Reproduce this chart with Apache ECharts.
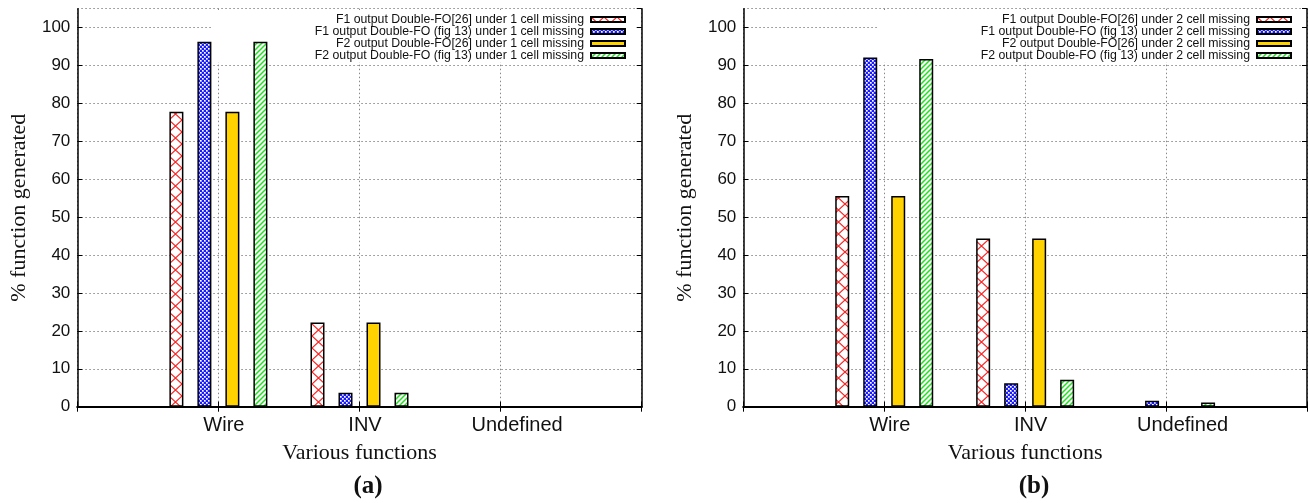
<!DOCTYPE html>
<html>
<head>
<meta charset="utf-8">
<script src="https://cdn.jsdelivr.net/npm/echarts@6/dist/echarts.min.js"></script>
<style>html,body{margin:0;padding:0;background:#fff;}#c{width:1310px;height:503px;}</style>
</head>
<body>
<div id="c"></div>
<script>
// ---- data ----
const categories = ['Wire', 'INV', 'Undefined'];
const yTicks = [0, 10, 20, 30, 40, 50, 60, 70, 80, 90, 100];
const namesA = [
  'F1 output Double-FO[26] under 1 cell missing',
  'F1 output Double-FO (fig 13) under 1 cell missing',
  'F2 output Double-FO[26] under 1 cell missing',
  'F2 output Double-FO (fig 13) under 1 cell missing'
];
const namesB = [
  'F1 output Double-FO[26] under 2 cell missing',
  'F1 output Double-FO (fig 13) under 2 cell missing',
  'F2 output Double-FO[26] under 2 cell missing',
  'F2 output Double-FO (fig 13) under 2 cell missing'
];
const aF1ref = [77.8, 22.2, 0];
const aF1fig = [96.3, 3.7, 0];
const aF2ref = [77.8, 22.2, 0];
const aF2fig = [96.3, 3.7, 0];
const bF1ref = [55.6, 44.4, 0];
const bF1fig = [92.1, 6.2, 1.6];
const bF2ref = [55.6, 44.4, 0];
const bF2fig = [91.7, 7.1, 1.1];

// ---- patterns ----
function pat(kind) {
  const c = document.createElement('canvas');
  let w, h;
  if (kind === 'cross') { w = 13; h = 12; }
  else if (kind === 'check') { w = 4; h = 4; }
  else { w = 5; h = 5; }
  c.width = w; c.height = h;
  const g = c.getContext('2d');
  if (kind === 'cross') {
    g.fillStyle = '#fff'; g.fillRect(0, 0, w, h);
    g.strokeStyle = '#ff2020'; g.lineWidth = 1.2;
    g.beginPath(); g.moveTo(0, 0); g.lineTo(w, h); g.moveTo(w, 0); g.lineTo(0, h); g.stroke();
  } else if (kind === 'check') {
    g.fillStyle = '#1a1aff'; g.fillRect(0, 0, w, h);
    g.fillStyle = '#ffffff';
    g.fillRect(0, 0, 1.7, 1.7); g.fillRect(2, 2, 1.7, 1.7);
  } else {
    g.fillStyle = '#fff'; g.fillRect(0, 0, w, h);
    g.strokeStyle = '#20e020'; g.lineWidth = 1.5;
    g.beginPath();
    g.moveTo(0, h); g.lineTo(w, 0);
    g.moveTo(-1, 1); g.lineTo(1, -1);
    g.moveTo(w - 1, h + 1); g.lineTo(w + 1, h - 1);
    g.stroke();
  }
  return { image: c, repeat: 'repeat' };
}
const fills = [pat('cross'), pat('check'), '#ffd200', pat('stripe')];

const axisCats = [''].concat(categories, ['']);
const pad = arr => [null].concat(arr, [null]);

const grids = [
  { left: 77.3, top: 8.7, width: 564.4, height: 398 },
  { left: 743.3, top: 8.7, width: 564.2, height: 398 }
];

const sans = 'Liberation Sans, Arial, sans-serif';
const serif = 'Liberation Serif, Times New Roman, serif';
const gridLine = { show: true, lineStyle: { color: '#888', width: 1, type: [1.5, 2.5] } };
const richX = {
  w: { fontFamily: sans, fontSize: 20, color: '#111', padding: [0, 0, 0, 11] },
  i: { fontFamily: sans, fontSize: 20, color: '#111', padding: [0, 0, 0, 11] },
  u: { fontFamily: sans, fontSize: 20, color: '#111', padding: [0, 0, 0, 33] }
};
const keyOf = { 'Wire': 'w', 'INV': 'i', 'Undefined': 'u' };

const xAxis = [], yAxis = [];
[0, 1].forEach(g => {
  xAxis.push({
    type: 'category', gridIndex: g, data: axisCats, boundaryGap: false, position: 'bottom',
    axisLine: { lineStyle: { color: '#000', width: 2 } },
    axisTick: { inside: true, length: 5, lineStyle: { color: '#000' } },
    axisLabel: { margin: 9, formatter: v => v ? '{' + keyOf[v] + '|' + v + '}' : '', rich: richX, interval: 0 },
    splitLine: gridLine,
    name: 'Various functions', nameLocation: 'middle', nameGap: 36,
    nameTextStyle: { fontFamily: serif, fontSize: 22, color: '#111' }
  });
  xAxis.push({
    type: 'category', gridIndex: g, data: axisCats, boundaryGap: false, position: 'top', z: 3,
    axisLine: { lineStyle: { color: '#000', width: 1.5 } },
    axisTick: { inside: true, length: 5, lineStyle: { color: '#000' } },
    axisLabel: { show: false }, splitLine: { show: false }
  });
  yAxis.push({
    type: 'value', gridIndex: g, min: 0, max: 105, interval: 10, position: 'left',
    axisLine: { show: true, lineStyle: { color: '#000', width: 1.5 } },
    axisTick: { show: true, inside: true, length: 5, lineStyle: { color: '#000' } },
    axisLabel: { margin: 7, fontFamily: sans, fontSize: 17, color: '#111', showMaxLabel: false,
      formatter: v => yTicks.indexOf(v) >= 0 ? String(v) : '' },
    splitLine: gridLine,
    name: '% function generated', nameLocation: 'middle', nameGap: 47, nameRotate: 90,
    nameTextStyle: { fontFamily: serif, fontSize: 22, color: '#111' }
  });
  yAxis.push({
    type: 'value', gridIndex: g, min: 0, max: 105, interval: 10, position: 'right', z: 3,
    axisLine: { show: true, lineStyle: { color: '#000', width: 1.5 } },
    axisTick: { show: true, inside: true, length: 5, lineStyle: { color: '#000' } },
    axisLabel: { show: false }, splitLine: { show: false }
  });
});

const dataA = [aF1ref, aF1fig, aF2ref, aF2fig];
const dataB = [bF1ref, bF1fig, bF2ref, bF2fig];
const series = [];
[[namesA, dataA, 0], [namesB, dataB, 1]].forEach(([names, data, g]) => {
  names.forEach((n, k) => {
    series.push({
      name: n, type: 'bar', xAxisIndex: g * 2, yAxisIndex: g * 2, data: pad(data[k]),
      barWidth: 14, barGap: '100%', z: 2,
      itemStyle: { color: fills[k], borderColor: '#000', borderWidth: 1.5 },
      emphasis: { disabled: true }, animation: false
    });
  });
});

const legendCommon = {
  orient: 'vertical', align: 'right', top: 13.5, padding: 0, itemGap: 0,
  itemWidth: 34, itemHeight: 5, icon: 'rect',
  textStyle: { fontFamily: sans, fontSize: 12.3, color: '#111', lineHeight: 12, padding: [0, 2, 0, 0] },
  selectedMode: false
};

const option = {
  animation: false,
  backgroundColor: '#fff',
  grid: grids,
  xAxis, yAxis, series,
  legend: [
    Object.assign({ data: namesA, right: 1310 - 626 }, legendCommon),
    Object.assign({ data: namesB, right: 1310 - 1292 }, legendCommon)
  ],
  graphic: [
    { type: 'rect', z: 1, shape: { x: 212, y: 10, width: 428.5, height: 52 }, style: { fill: '#fff' } },
    { type: 'rect', z: 1, shape: { x: 877, y: 10, width: 429.5, height: 52 }, style: { fill: '#fff' } },
    { type: 'text', z: 5, x: 368, y: 487, style: { text: '(a)', font: 'bold 25px Liberation Serif, serif', fill: '#111', align: 'center', verticalAlign: 'middle' } },
    { type: 'text', z: 5, x: 1034, y: 487, style: { text: '(b)', font: 'bold 25px Liberation Serif, serif', fill: '#111', align: 'center', verticalAlign: 'middle' } }
  ]
};
const chart = echarts.init(document.getElementById('c'), null, { renderer: 'canvas' });
chart.setOption(option);
</script>
</body>
</html>
